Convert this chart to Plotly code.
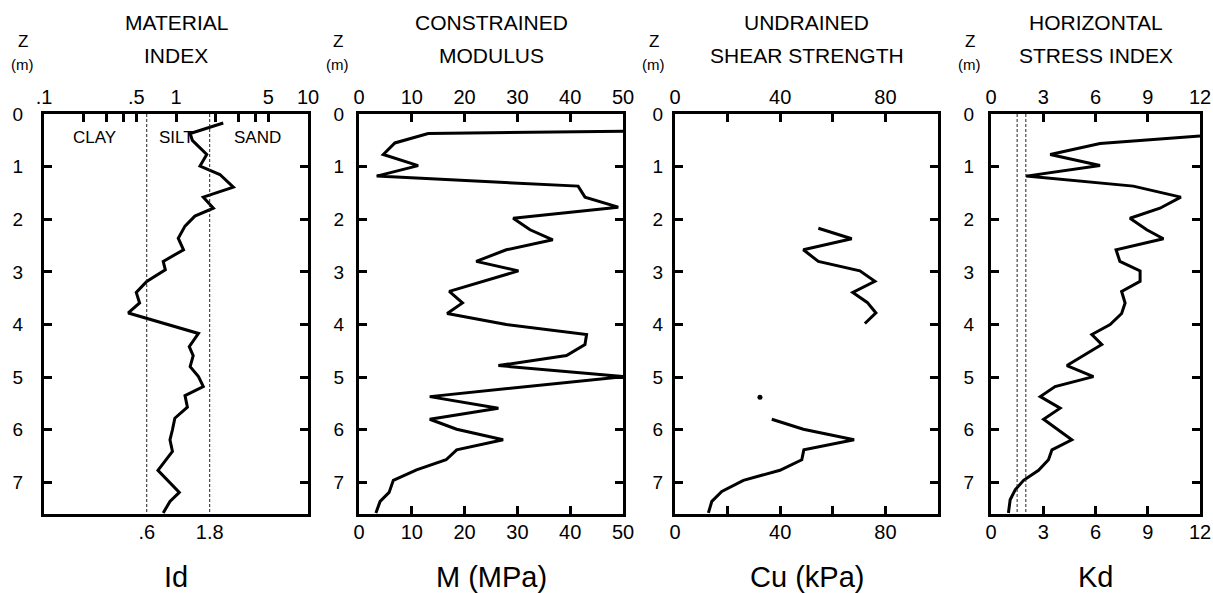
import math
import plotly.graph_objects as go

# ---------------- data ----------------
id_depth = [0.17, 0.37, 0.50, 0.62, 0.77, 0.99, 1.15, 1.39, 1.58, 1.79, 1.94, 2.13, 2.36, 2.58,
            2.80, 2.96, 3.18, 3.39, 3.59, 3.78, 3.97, 4.17, 4.42, 4.59, 4.80, 4.99, 5.18, 5.35,
            5.57, 5.78, 6.00, 6.19, 6.41, 6.77, 7.19, 7.36, 7.58]
id_vals = [2.28, 1.28, 1.33, 1.50, 1.71, 1.52, 2.15, 2.72, 1.61, 1.92, 1.39, 1.17, 1.04, 1.14,
           0.80, 0.83, 0.60, 0.50, 0.53, 0.435, 0.80, 1.48, 1.26, 1.35, 1.28, 1.48, 1.61, 1.17,
           1.22, 0.98, 0.94, 0.90, 0.94, 0.73, 1.06, 0.90, 0.80]
id_bounds = [0.6, 1.8]
soil_labels = ["CLAY", "SILT", "SAND"]
soil_label_x = [0.243, 1.0, 4.17]

m_depth = [0.33, 0.37, 0.55, 0.77, 0.98, 1.18, 1.37, 1.58, 1.77, 1.98, 2.20, 2.39, 2.58, 2.80,
           2.98, 3.37, 3.59, 3.79, 4.00, 4.19, 4.38, 4.59, 4.78, 4.99, 5.37, 5.59, 5.80, 5.99,
           6.19, 6.38, 6.57, 6.76, 6.96, 7.19, 7.36, 7.58]
m_vals = [50, 13.1, 6.8, 4.6, 11.2, 3.35, 41.5, 42.8, 49.1, 29.2, 32.4, 36.7, 27.9, 22.2,
          30.2, 17.1, 19.6, 16.7, 27.9, 43.1, 42.8, 39.3, 26.4, 50, 13.4, 26.4, 13.4, 18.5,
          27.3, 18.5, 16.5, 10.9, 6.5, 5.7, 4.0, 3.2]

cu_depth = [2.17, 2.37, 2.58, 2.80, 2.98, 3.18, 3.39, 3.58, 3.78, 3.98, None,
            5.80, 5.99, 6.19, 6.38, 6.57, 6.77, 6.96, 7.17, 7.36, 7.58]
cu_vals = [54.5, 67.2, 48.8, 54.5, 70.3, 76.0, 67.6, 73.1, 76.4, 72.2, None,
           36.8, 48.8, 68.1, 49.0, 48.2, 39.9, 26.0, 17.8, 14.0, 12.7]
cu_dot_depth = [5.38]
cu_dot_vals = [32.3]

kd_depth = [0.42, 0.56, 0.77, 0.98, 1.18, 1.37, 1.58, 1.79, 1.98, 2.20, 2.37, 2.58, 2.80, 2.98,
            3.18, 3.37, 3.59, 3.79, 4.00, 4.19, 4.38, 4.57, 4.78, 4.99, 5.18, 5.37, 5.59, 5.80,
            6.00, 6.19, 6.38, 6.57, 6.77, 6.96, 7.14, 7.33, 7.58]
kd_vals = [12.0, 6.26, 3.4, 6.26, 2.02, 8.17, 10.9, 9.7, 7.98, 8.94, 9.9, 7.18, 7.4, 8.56,
           8.56, 7.5, 7.7, 7.5, 6.84, 5.79, 6.36, 5.4, 4.36, 5.88, 3.68, 2.83, 3.97, 3.02,
           3.82, 4.64, 3.5, 3.3, 2.73, 1.87, 1.39, 1.1, 1.0]
kd_bounds = [1.5, 2.0]

depth_range = [7.6, 0]
depth_ticks = [0, 1, 2, 3, 4, 5, 6, 7]

titles = [("MATERIAL", "INDEX"), ("CONSTRAINED", "MODULUS"),
          ("UNDRAINED", "SHEAR STRENGTH"), ("HORIZONTAL", "STRESS INDEX")]
xlabels = ["Id", "M (MPa)", "Cu (kPa)", "Kd"]

id_top_vals = [0.1, 0.2, 0.3, 0.4, 0.5, 1, 2, 3, 4, 5, 10]
id_top_text = [".1", "", "", "", ".5", "1", "", "", "", "5", "10"]
id_bot_vals = [0.6, 1.8]
id_bot_text = [".6", "1.8"]
m_ticks = [0, 10, 20, 30, 40, 50]
cu_ticks = [0, 20, 40, 60, 80, 100]
cu_text = ["0", "", "40", "", "80", ""]
kd_ticks = [0, 3, 6, 9, 12]

# ---------------- layout geometry ----------------
W, H = 1213, 593
px_x = [(44, 308), (359, 623), (675, 938), (991, 1200)]
y_standoff = [14, 8, 5, 10]
y_dom = [1 - 514 / H, 1 - 114 / H]
FONT = "Liberation Sans, Arial, sans-serif"
LW = 3

fig = go.Figure()
line_style = dict(color="black", width=3)
dash_style = dict(color="#222", width=1, dash="3px,2px")

fig.add_trace(go.Scatter(x=id_vals, y=id_depth, mode="lines", line=line_style,
                         xaxis="x", yaxis="y"))
for b in id_bounds:
    fig.add_trace(go.Scatter(x=[b, b], y=[0, 7.6], mode="lines", line=dash_style,
                             xaxis="x2", yaxis="y"))
fig.add_trace(go.Scatter(x=m_vals, y=m_depth, mode="lines", line=line_style,
                         xaxis="x3", yaxis="y2"))
fig.add_trace(go.Scatter(x=[None], y=[None], xaxis="x4", yaxis="y2"))
fig.add_trace(go.Scatter(x=cu_vals, y=cu_depth, mode="lines", line=line_style,
                         xaxis="x5", yaxis="y3", connectgaps=False))
fig.add_trace(go.Scatter(x=cu_dot_vals, y=cu_dot_depth, mode="markers",
                         marker=dict(color="black", size=5), xaxis="x6", yaxis="y3"))
fig.add_trace(go.Scatter(x=kd_vals, y=kd_depth, mode="lines", line=line_style,
                         xaxis="x7", yaxis="y4"))
for b in kd_bounds:
    fig.add_trace(go.Scatter(x=[b, b], y=[0, 7.6], mode="lines", line=dash_style,
                             xaxis="x8", yaxis="y4"))

layout = dict(width=W, height=H, margin=dict(l=0, r=0, t=0, b=0, autoexpand=False),
              paper_bgcolor="white", plot_bgcolor="white", showlegend=False,
              font=dict(family=FONT, color="black"))

xspecs = [
    dict(type="log", range=[-1, 1], top=(id_top_vals, id_top_text, "inside"),
         bot=(id_bot_vals, id_bot_text, "")),
    dict(type="linear", range=[0, 50], top=(m_ticks, [str(v) for v in m_ticks], "inside"),
         bot=(m_ticks, [str(v) for v in m_ticks], "inside")),
    dict(type="linear", range=[0, 100], top=(cu_ticks, cu_text, "inside"),
         bot=(cu_ticks, cu_text, "inside")),
    dict(type="linear", range=[0, 12], top=(kd_ticks, [str(v) for v in kd_ticks], "inside"),
         bot=(kd_ticks, [str(v) for v in kd_ticks], "inside")),
]

annotations = []
for i, spec in enumerate(xspecs):
    x0, x1 = px_x[i]
    dom = [x0 / W, x1 / W]
    yname = "y" if i == 0 else f"y{i+1}"
    bname = "xaxis" if i == 0 else f"xaxis{2*i+1}"
    tname = f"xaxis{2*i+2}"
    bref = "x" if i == 0 else f"x{2*i+1}"
    bvals, btext, bticks = spec["bot"]
    tvals, ttext, tticks = spec["top"]
    layout[bname] = dict(domain=dom, anchor=yname, type=spec["type"], range=spec["range"],
                         side="bottom", showline=True, linewidth=LW, linecolor="black",
                         mirror=True, showgrid=False, zeroline=False, automargin=False,
                         tickmode="array", tickvals=bvals, ticktext=btext,
                         ticks=bticks, ticklen=8, tickwidth=2.5, tickcolor="black",
                         tickfont=dict(size=20, family=FONT, color="black"),
                         ticklabelstandoff=-2, fixedrange=True)
    layout[tname] = dict(overlaying=bref, anchor=yname, type=spec["type"], range=spec["range"],
                         side="top", showline=False, showgrid=False, zeroline=False,
                         automargin=False,
                         tickmode="array", tickvals=tvals, ticktext=ttext,
                         ticks=tticks, ticklen=8, tickwidth=2.5, tickcolor="black",
                         tickfont=dict(size=20, family=FONT, color="black"),
                         ticklabelstandoff=5, fixedrange=True)
    layout["yaxis" if i == 0 else f"yaxis{i+1}"] = dict(
        domain=y_dom, anchor=bref, range=depth_range, showline=True, linewidth=LW,
        linecolor="black", mirror="ticks", showgrid=False, zeroline=False, automargin=False,
        tickmode="array", tickvals=depth_ticks, ticks="inside", ticklen=8, tickwidth=2.5,
        tickcolor="black", tickfont=dict(size=19, family=FONT, color="black"),
        ticklabelstandoff=y_standoff[i], fixedrange=True)
    cx = (x0 + x1) / 2 / W
    for txt, yy in ((titles[i][0], 22), (titles[i][1], 55)):
        annotations.append(dict(text=txt, x=cx, y=1 - yy / H, xref="paper", yref="paper",
                                showarrow=False, font=dict(size=21, family=FONT, color="black"),
                                xanchor="center", yanchor="middle"))
    annotations.append(dict(text="Z", x=(x0 - 21) / W, y=1 - 41 / H, xref="paper",
                            yref="paper", showarrow=False,
                            font=dict(size=17, family=FONT, color="black"),
                            xanchor="center", yanchor="middle"))
    annotations.append(dict(text="(m)", x=(x0 - 22) / W, y=1 - 64 / H, xref="paper",
                            yref="paper", showarrow=False,
                            font=dict(size=15, family=FONT, color="black"),
                            xanchor="center", yanchor="middle"))
    annotations.append(dict(text=xlabels[i], x=cx, y=1 - 577 / H, xref="paper",
                            yref="paper", showarrow=False,
                            font=dict(size=29, family=FONT, color="black"),
                            xanchor="center", yanchor="middle"))

for lab, xv in zip(soil_labels, soil_label_x):
    annotations.append(dict(text=lab, x=math.log10(xv), y=0.44, xref="x", yref="y",
                            showarrow=False, font=dict(size=17, family=FONT, color="black"),
                            xanchor="center", yanchor="middle"))

layout["annotations"] = annotations
fig.update_layout(**layout)
fig.write_html("out.html")
